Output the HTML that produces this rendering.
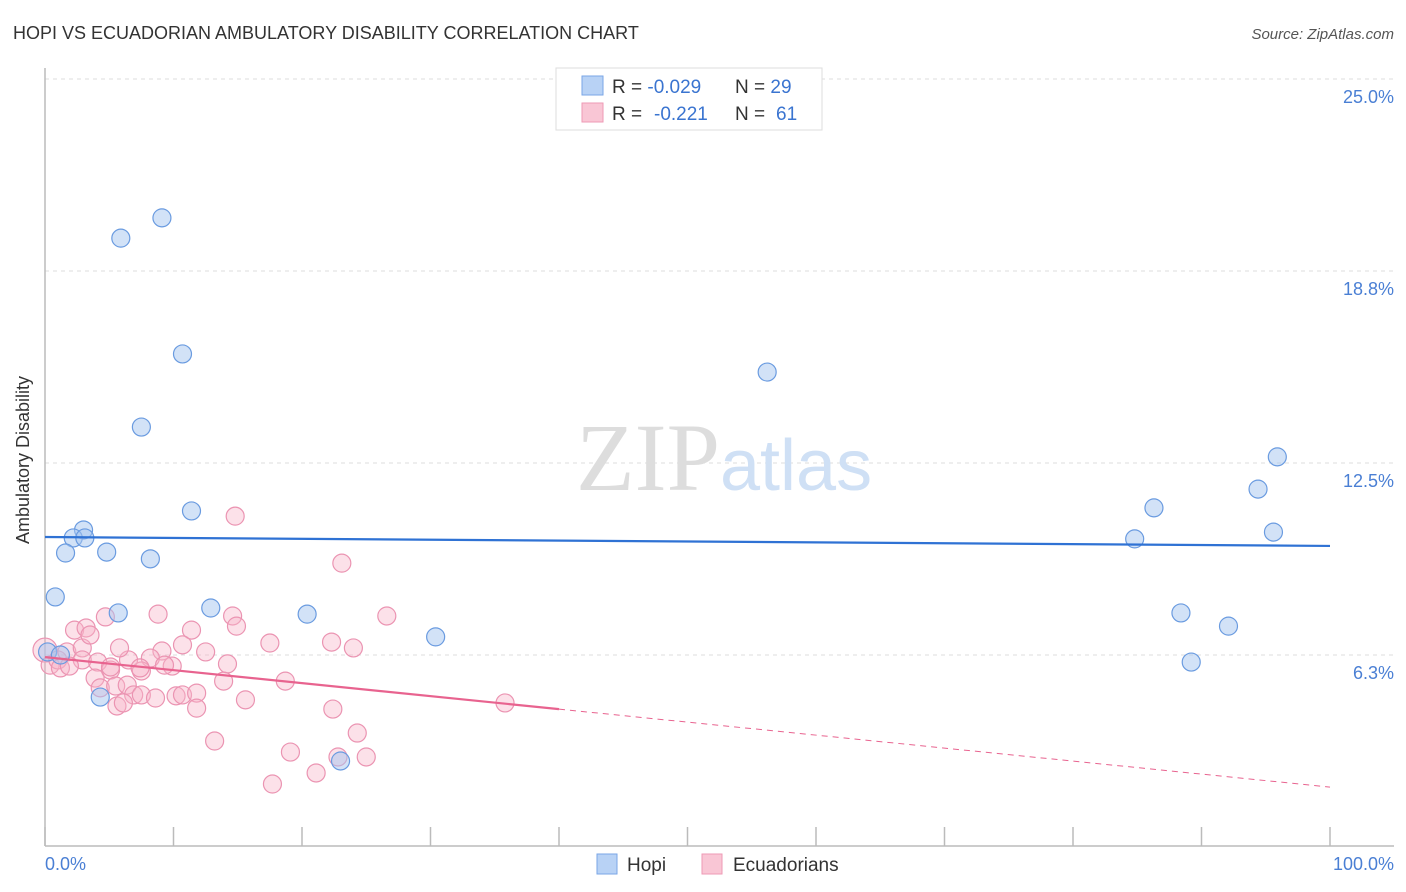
<!DOCTYPE html>
<html><head><meta charset="utf-8"><style>
body{margin:0;background:#fff;font-family:"Liberation Sans",sans-serif}
svg{display:block}
</style></head><body>
<svg width="1406" height="892">
<text x="13" y="39" font-size="18" fill="#333">HOPI VS ECUADORIAN AMBULATORY DISABILITY CORRELATION CHART</text>
<text x="1394" y="39" font-size="15" fill="#555" font-style="italic" text-anchor="end">Source: ZipAtlas.com</text>
<g id="grid"></g>
<line x1="45" y1="68" x2="45" y2="846" stroke="#bbb" stroke-width="1.5"/>
<line x1="45" y1="846" x2="1394" y2="846" stroke="#bbb" stroke-width="1.5"/>
<g id="ticks"></g>
<text x="720" y="490" font-size="96" font-family="Liberation Serif,serif" fill="#ddd" text-anchor="end">ZIP</text>
<text x="720" y="490" font-size="72" fill="#cfe0f5">atlas</text>
<text x="24" y="455" font-size="18" fill="#333" text-anchor="middle" transform="rotate(-90 29 455)">Ambulatory Disability</text>
<text x="45" y="870" font-size="18" fill="#4a7fd4">0.0%</text>
<text x="1394" y="870" font-size="18" fill="#4a7fd4" text-anchor="end">100.0%</text>
<g id="pink"></g>
<g id="blue"></g>
<g id="trends"></g>
<g>
<rect x="556" y="68" width="266" height="62" fill="#fff" stroke="#ddd"/>
<rect x="582" y="76" width="21" height="19" fill="#b8d2f5" stroke="#7aa6e6"/>
<rect x="582" y="103" width="21" height="19" fill="#f9c6d5" stroke="#ee9ab5"/>
<text x="612" y="93" font-size="19" fill="#333">R = <tspan fill="#3a74d0">-0.029</tspan><tspan x="735">N = </tspan><tspan fill="#3a74d0">29</tspan></text>
<text x="612" y="120" font-size="19" fill="#333">R = <tspan fill="#3a74d0" x="654">-0.221</tspan><tspan x="735">N = </tspan><tspan fill="#3a74d0" x="776">61</tspan></text>
</g>
<g>
<rect x="597" y="854" width="20" height="20" fill="#b8d2f5" stroke="#7aa6e6"/>
<text x="627" y="871" font-size="19" fill="#333">Hopi</text>
<rect x="702" y="854" width="20" height="20" fill="#f9c6d5" stroke="#ee9ab5"/>
<text x="733" y="871" font-size="19" fill="#333">Ecuadorians</text>
</g>
</svg>
<script>
const yTicks=[25,18.75,12.5,6.25];
const yTickLabels=["25.0%","18.8%","12.5%","6.3%"];
const xTicks=[0,10,20,30,40,50,60,70,80,90,100];
const hopiX=[5.9,9.1,10.7,7.5,11.4,3.0,2.2,3.1,1.6,4.8,8.2,0.8,5.7,12.9,20.4,30.4,4.3,23.0,0.2,1.2,56.2,95.9,94.4,86.3,95.6,84.8,88.4,92.1,89.2];
const hopiY=[19.82,20.48,16.05,13.67,10.94,10.32,10.06,10.06,9.57,9.60,9.38,8.14,7.62,7.78,7.58,6.84,4.88,2.80,6.35,6.25,15.46,12.70,11.65,11.04,10.25,10.03,7.62,7.19,6.02];
const ecuX=[0,0.4,1.0,1.7,2.9,2.3,3.2,3.5,4.7,8.8,14.6,26.6,14.8,23.1,11.4,14.9,17.5,22.3,24.0,10.7,9.1,8.2,2.9,4.1,5.1,6.5,7.5,9.9,9.3,14.2,12.5,3.9,4.3,5.5,6.4,6.9,7.5,8.6,10.2,10.7,11.8,11.8,5.6,6.1,13.9,18.7,15.6,22.4,35.8,13.2,24.3,19.1,22.8,25.0,21.1,17.7,1.2,1.9,7.4,5.8,5.1];
const ecuY=[6.41,5.92,6.09,6.35,6.48,7.06,7.13,6.90,7.49,7.58,7.52,7.52,10.77,9.24,7.06,7.19,6.64,6.67,6.48,6.58,6.38,6.15,6.09,6.02,5.76,6.09,5.73,5.89,5.92,5.96,6.35,5.50,5.18,5.24,5.27,4.95,4.95,4.85,4.92,4.95,5.01,4.52,4.59,4.69,5.40,5.40,4.79,4.49,4.69,3.45,3.71,3.09,2.93,2.93,2.41,2.05,5.83,5.89,5.83,6.48,5.86];
const hopiTrend=[10.09,9.80];
const ecuTrend=[6.18,1.95];
const ecuSolidEnd=40;
const NS="http://www.w3.org/2000/svg";
const sx=v=>45+v*12.85, sy=v=>847-v*30.72;
function mk(tag,attrs,parent){const e=document.createElementNS(NS,tag);for(const k in attrs)e.setAttribute(k,attrs[k]);document.getElementById(parent).appendChild(e);return e;}
yTicks.forEach((t,i)=>{
 const l=mk('line',{x1:45,x2:1394,y1:sy(t),y2:sy(t),stroke:'#ddd','stroke-dasharray':'4,4'},'grid');
 
 
 const tx=mk('text',{x:1394,y:sy(t)+24,'font-size':18,fill:'#4a7fd4','text-anchor':'end'},'grid');
 tx.textContent=yTickLabels[i];
 
 
});
xTicks.forEach(t=>{
 const l=mk('line',{x1:sx(t),x2:sx(t),y1:827,y2:846,stroke:'#bbb','stroke-width':1.5},'ticks');
 
 
});
ecuX.forEach((x,i)=>{
 const c=mk('circle',{cx:sx(x),cy:sy(ecuY[i]),r:i==0?12:9,fill:'rgba(248,180,200,0.4)',stroke:'#eb94b2','stroke-width':1.2},'pink');
 
 
});
hopiX.forEach((x,i)=>{
 const c=mk('circle',{cx:sx(x),cy:sy(hopiY[i]),r:9,fill:'rgba(165,198,240,0.5)',stroke:'#6a9be0','stroke-width':1.2},'blue');
 
 
});
const bl=mk('line',{x1:sx(0),y1:sy(hopiTrend[0]),x2:sx(100),y2:sy(hopiTrend[1]),stroke:'#2f72d4','stroke-width':2.2},'trends');


const ym=ecuTrend[0]+(ecuTrend[1]-ecuTrend[0])*ecuSolidEnd/100;
const pl=mk('line',{x1:sx(0),y1:sy(ecuTrend[0]),x2:sx(ecuSolidEnd),y2:sy(ym),stroke:'#e8638f','stroke-width':2.2},'trends');


const pd=mk('line',{x1:sx(ecuSolidEnd),y1:sy(ym),x2:sx(100),y2:sy(ecuTrend[1]),stroke:'#e8638f','stroke-width':1,'stroke-dasharray':'6,5'},'trends');


</script>
</body></html>
